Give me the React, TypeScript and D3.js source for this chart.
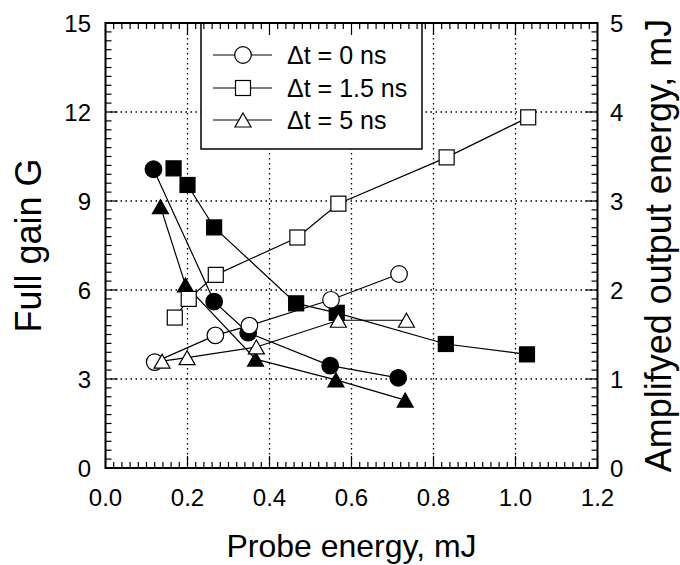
import React from 'react';
import * as d3 from 'd3';

// ---- Data ----
// Full gain G (filled markers, left axis)
const gainX0 = [0.117, 0.265, 0.348, 0.548, 0.714];
const gainY0 = [10.07, 5.61, 4.56, 3.45, 3.04];
const gainX15 = [0.166, 0.2, 0.265, 0.465, 0.564, 0.83, 1.028];
const gainY15 = [10.1, 9.54, 8.11, 5.55, 5.23, 4.18, 3.83];
const gainX5 = [0.134, 0.195, 0.366, 0.562, 0.731];
const gainY5 = [8.81, 6.17, 3.67, 2.97, 2.29];

// Amplified output energy, mJ (open markers, right axis)
const outX0 = [0.12, 0.268, 0.351, 0.55, 0.716];
const outY0 = [1.19, 1.49, 1.6, 1.89, 2.18];
const outX15 = [0.169, 0.203, 0.269, 0.468, 0.568, 0.832, 1.031];
const outY15 = [1.69, 1.9, 2.17, 2.59, 2.97, 3.49, 3.94];
const outX5 = [0.138, 0.199, 0.368, 0.568, 0.734];
const outY5 = [1.2, 1.24, 1.36, 1.66, 1.66];

const legendLabels = ['\u0394t = 0 ns', '\u0394t = 1.5 ns', '\u0394t = 5 ns'];
const xTicks = [0, 0.2, 0.4, 0.6, 0.8, 1.0, 1.2];
const yLeftTicks = [0, 3, 6, 9, 12, 15];
const yRightTicks = [0, 1, 2, 3, 4, 5];

const W = 680;
const H = 565;
const L = 105.5, R = 597.5, T = 23, B = 468;
const FONT = 'Liberation Sans, Arial, sans-serif';

type Shape = 'circle' | 'square' | 'triangle';

function Marker({ shape, x, y, filled }: { shape: Shape; x: number; y: number; filled: boolean }) {
  const fill = filled ? '#000' : '#fff';
  const common = { fill, stroke: '#000', strokeWidth: 1.2 };
  if (shape === 'circle') return <circle cx={x} cy={y} r={8.3} {...common} />;
  if (shape === 'square') return <rect x={x - 7.5} y={y - 7.5} width={15} height={15} {...common} />;
  const w = 16, h = 14;
  return <path d={`M${x},${y - h / 2}L${x + w / 2},${y + h / 2}L${x - w / 2},${y + h / 2}Z`} {...common} />;
}

export default function App() {
  const x = d3.scaleLinear().domain([0, 1.2]).range([L, R]);
  const yL = d3.scaleLinear().domain([0, 15]).range([B, T]);
  const yR = d3.scaleLinear().domain([0, 5]).range([B, T]);

  const series = [
    { xs: gainX0, ys: gainY0, scale: yL, shape: 'circle' as Shape, filled: true },
    { xs: gainX15, ys: gainY15, scale: yL, shape: 'square' as Shape, filled: true },
    { xs: gainX5, ys: gainY5, scale: yL, shape: 'triangle' as Shape, filled: true },
    { xs: outX0, ys: outY0, scale: yR, shape: 'circle' as Shape, filled: false },
    { xs: outX15, ys: outY15, scale: yR, shape: 'square' as Shape, filled: false },
    { xs: outX5, ys: outY5, scale: yR, shape: 'triangle' as Shape, filled: false },
  ];

  const line = d3.line<[number, number]>().x((d) => d[0]).y((d) => d[1]);

  const xMinor = d3.range(0, 1.2001, 0.02);
  const yMinor = d3.range(0, 15.001, 0.3);
  const major = 12, minor = 6;

  const legendShapes: Shape[] = ['circle', 'square', 'triangle'];
  const legendRows = [55, 88, 120];

  return (
    <svg width={W} height={H} style={{ position: 'absolute', left: 0, top: 0, display: 'block', background: '#fff' }} fontFamily={FONT}>
      <rect x={0} y={0} width={W} height={H} fill="#fff" />
      {/* grid */}
      <g stroke="#000" strokeWidth={1.3} strokeDasharray="1.5,3.5">
        {xTicks.slice(1, -1).map((t) => (
          <line key={'gx' + t} x1={x(t)} x2={x(t)} y1={T} y2={B} />
        ))}
        {yLeftTicks.slice(1, -1).map((t) => (
          <line key={'gy' + t} x1={L} x2={R} y1={yL(t)} y2={yL(t)} />
        ))}
      </g>
      {/* series lines */}
      {series.map((s, i) => (
        <path
          key={'l' + i}
          d={line(s.xs.map((v, j) => [x(v), s.scale(s.ys[j])] as [number, number])) || ''}
          fill="none"
          stroke="#000"
          strokeWidth={1.2}
        />
      ))}
      {/* markers */}
      {series.map((s, i) =>
        s.xs.map((v, j) => (
          <Marker key={'m' + i + '-' + j} shape={s.shape} x={x(v)} y={s.scale(s.ys[j])} filled={s.filled} />
        ))
      )}
      {/* legend */}
      <rect x={201} y={T} width={221} height={126} fill="#fff" stroke="#000" strokeWidth={1.5} />
      {legendLabels.map((lab, i) => (
        <g key={'lg' + i}>
          <line x1={213} x2={272} y1={legendRows[i]} y2={legendRows[i]} stroke="#000" strokeWidth={1.2} />
          <Marker shape={legendShapes[i]} x={243} y={legendRows[i]} filled={false} />
          <text x={287} y={legendRows[i]} dominantBaseline="central" fontSize={25} fill="#000">
            {lab}
          </text>
        </g>
      ))}
      {/* ticks */}
      <g stroke="#000" strokeWidth={1.2}>
        {xMinor.map((t, i) => {
          const len = i % 10 === 0 ? major : minor;
          const px = x(t);
          return (
            <g key={'xt' + i}>
              <line x1={px} x2={px} y1={B} y2={B - len} />
              <line x1={px} x2={px} y1={T} y2={T + len} />
            </g>
          );
        })}
        {yMinor.map((t, i) => {
          const len = i % 10 === 0 ? major : minor;
          const py = yL(t);
          return (
            <g key={'yt' + i}>
              <line x1={L} x2={L + len} y1={py} y2={py} />
              <line x1={R} x2={R - len} y1={py} y2={py} />
            </g>
          );
        })}
      </g>
      {/* frame */}
      <rect x={L} y={T} width={R - L} height={B - T} fill="none" stroke="#000" strokeWidth={2} />
      {/* tick labels */}
      {xTicks.map((t) => (
        <text key={'xl' + t} x={x(t)} y={497} textAnchor="middle" dominantBaseline="central" fontSize={24}>
          {d3.format('.1f')(t)}
        </text>
      ))}
      {yLeftTicks.map((t) => (
        <text key={'yl' + t} x={91} y={yL(t)} textAnchor="end" dominantBaseline="central" fontSize={24}>
          {t}
        </text>
      ))}
      {yRightTicks.map((t) => (
        <text key={'yr' + t} x={610} y={yR(t)} textAnchor="start" dominantBaseline="central" fontSize={24}>
          {t}
        </text>
      ))}
      {/* axis titles */}
      <text x={(L + R) / 2} y={557} textAnchor="middle" fontSize={32}>
        Probe energy, mJ
      </text>
      <text transform={`translate(41,${(T + B) / 2}) rotate(-90)`} textAnchor="middle" fontSize={36}>
        Full gain G
      </text>
      <text transform={`translate(671,${(T + B) / 2}) rotate(-90)`} textAnchor="middle" fontSize={36}>
        Amplifyed output energy, mJ
      </text>
    </svg>
  );
}
